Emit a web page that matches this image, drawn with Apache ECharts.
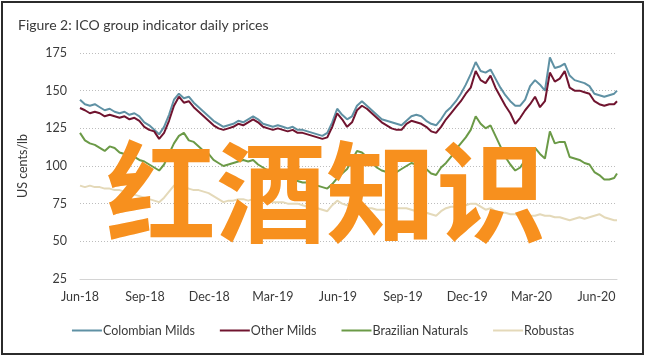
<!DOCTYPE html>
<html>
<head>
<meta charset="utf-8">
<script src="https://cdn.jsdelivr.net/npm/echarts@6/dist/echarts.min.js"></script>
<style>html,body{margin:0;padding:0;background:#fff}#c{width:646px;height:360px}</style>
</head>
<body>
<div id="c"></div>
<script>
const dates = [
'2018-06-01','2018-06-08','2018-06-15','2018-06-22','2018-06-29','2018-07-06','2018-07-13','2018-07-20','2018-07-27','2018-08-03',
'2018-08-10','2018-08-17','2018-08-24','2018-08-31','2018-09-07','2018-09-14','2018-09-21','2018-09-28','2018-10-05','2018-10-12',
'2018-10-19','2018-10-26','2018-11-02','2018-11-09','2018-11-16','2018-11-23','2018-11-30','2018-12-07','2018-12-14','2018-12-21',
'2018-12-28','2019-01-04','2019-01-11','2019-01-18','2019-01-25','2019-02-01','2019-02-08','2019-02-15','2019-02-22','2019-03-01',
'2019-03-08','2019-03-15','2019-03-22','2019-03-29','2019-04-05','2019-04-12','2019-04-19','2019-04-26','2019-05-03','2019-05-10',
'2019-05-17','2019-05-24','2019-05-31','2019-06-07','2019-06-14','2019-06-21','2019-06-28','2019-07-05','2019-07-12','2019-07-19',
'2019-07-26','2019-08-02','2019-08-09','2019-08-16','2019-08-23','2019-08-30','2019-09-06','2019-09-13','2019-09-20','2019-09-27',
'2019-10-04','2019-10-11','2019-10-18','2019-10-25','2019-11-01','2019-11-08','2019-11-15','2019-11-22','2019-11-29','2019-12-06',
'2019-12-13','2019-12-20','2019-12-27','2020-01-03','2020-01-10','2020-01-17','2020-01-24','2020-01-31','2020-02-07','2020-02-14',
'2020-02-21','2020-02-28','2020-03-06','2020-03-13','2020-03-20','2020-03-27','2020-04-03','2020-04-10','2020-04-17','2020-04-24',
'2020-05-01','2020-05-08','2020-05-15','2020-05-22','2020-05-29','2020-06-05','2020-06-12','2020-06-19','2020-06-26','2020-06-30'
];
const colombianMilds = [
144,141,140,141,139,137,138,136,135,136,
134,135,133,129,127,124,121,126,134,144,
148,145,146,142,139,136,133,130,128,126,
127,128,130,129,131,133,131,128,127,126,
127,126,125,126,124,124,123,122,121,120,
122,129,138,134,131,133,140,143,140,137,
134,131,130,129,128,127,130,133,134,133,
130,128,127,131,136,139,143,148,154,161,
169,163,162,164,158,152,147,143,140,140,
144,153,157,154,150,172,165,166,168,160,
157,156,155,153,148,147,146,147,148,150
];
const otherMilds = [
138.5,137,135,136,135,133,134,133,132,133,
131,132,130,126,124,123,118,122,130,140,
146,142,143,139,136,133,130,127,125,124,
125,126,128,127,129,131,129,126,125,124,
125,124,123,124,122,122,121,120,119,118,
119,126,135,131,126,129,137,140,138,135,
132,129,127,125,124,124,128,130,129,128,
126,123,122,126,131,135,139,143,148,152,
163,157,155,160,152,146,140,135,128,132,
137,141,146,139,143,162,156,158,163,152,
150,150,149,148,143,141,140,141,141,143
];
const brazilianNaturals = [
122,117,115,114,112,110,113,112,109,108,
107,106,104,103,101,99,97,101,108,115,
120,122,117,116,113,110,108,104,102,100,
101,102,103,104,103,104,101,99,97,96,
95,94,93,91,90,89,89,88,87,86,
85,88,92,95,98,104,110,109,106,103,
99,97,96,95,96,98,100,102,101,99,
98,95,94,99,102,106,111,115,119,124,
133,128,125,127,120,113,106,101,97,99,
104,110,112,108,105,123,115,116,116,106,
105,104,102,101,96,94,91,91,92,95
];
const robustas = [
87,86,87,86,86,85,85,84,84,83,
82,81,80,79,78,77,76,79,83,87,
87,85,85,84,84,83,82,80,78,76,
77,77,78,78,77,78,78,77,77,76,
76,76,75,75,75,74,73,73,72,71,
70,74,77,75,74,74,73,73,72,72,
71,71,71,72,72,72,72,71,70,69,
69,68,67,70,72,73,73,74,74,75,
75,73,71,72,70,69,69,68,68,67,
68,67,67,68,67,67,66,66,65,64,
65,66,65,66,67,68,66,65,64,64
];
const seriesNames = ['Colombian Milds','Other Milds','Brazilian Naturals','Robustas'];
const tickDates = ['2018-06-01','2018-09-01','2018-12-01','2019-03-01','2019-06-01','2019-09-01','2019-12-01','2020-03-01','2020-06-01'];
const tickLabels = ['Jun-18','Sep-18','Dec-18','Mar-19','Jun-19','Sep-19','Dec-19','Mar-20','Jun-20'];
const yTicks = [25,50,75,100,125,150,175];

const toTime = s => { const p = s.split('-').map(Number); return Date.UTC(p[0], p[1]-1, p[2]); };
const tickTimes = tickDates.map(toTime);
const pair = vals => dates.map((d,i) => [toTime(d), vals[i]]);
const colors = ['#5f91a4','#70142f','#6b9a47','#e4d9b9'];
const FONT = 'Lato';
const chart = echarts.init(document.getElementById('c'), null, {renderer:'canvas'});
chart.setOption({
  animation:false,
  backgroundColor:'#fff',
  title:{text:'Figure 2: ICO group indicator daily prices', left:13, top:13,
    textStyle:{fontFamily:FONT, fontSize:14, fontWeight:'normal', color:'#3a3a3a'}},
  grid:{left:80, right:29, top:53, bottom:81},
  legend:{left:'center', top:319, itemWidth:30, itemHeight:2, itemGap:25, icon:'rect',
    data:seriesNames, textStyle:{fontFamily:FONT, fontSize:12.5, color:'#3a3a3a', padding:[0,0,0,-4]}},
  xAxis:{type:'value', min:toTime('2018-06-01'), max:toTime('2020-06-30'), scale:true,
    axisLine:{show:true, lineStyle:{color:'#d4d4d4', width:1}},
    axisTick:{show:false}, splitLine:{show:false},
    axisLabel:{customValues:tickTimes, margin:11, fontFamily:FONT, fontSize:12.5, color:'#3a3a3a',
      formatter: v => { const i = tickTimes.indexOf(v); return i >= 0 ? tickLabels[i] : ''; }}},
  yAxis:{type:'value', min:yTicks[0], max:yTicks[yTicks.length-1], interval:25,
    name:'US cents/lb', nameLocation:'middle', nameGap:51, nameRotate:90,
    nameTextStyle:{fontFamily:FONT, fontSize:12.5, color:'#3a3a3a'},
    axisLine:{show:false}, axisTick:{show:false},
    axisLabel:{margin:13, fontFamily:FONT, fontSize:12.5, color:'#3a3a3a'},
    splitLine:{show:true, lineStyle:{type:[1,2], color:'#bdbdbd', width:1}}},
  series:[
    {name:seriesNames[0], type:'line', data:pair(colombianMilds), showSymbol:false, color:colors[0], lineStyle:{width:2}},
    {name:seriesNames[1], type:'line', data:pair(otherMilds), showSymbol:false, color:colors[1], lineStyle:{width:2}},
    {name:seriesNames[2], type:'line', data:pair(brazilianNaturals), showSymbol:false, color:colors[2], lineStyle:{width:2}},
    {name:seriesNames[3], type:'line', data:pair(robustas), showSymbol:false, color:colors[3], lineStyle:{width:2}}
  ],
  graphic:[
    {type:'rect', shape:{x:2, y:2, width:641, height:352}, style:{fill:'none', stroke:'#2b2b2b', lineWidth:2}, z:100, silent:true},
    {type:'text', x:326, y:192, z:100, silent:true,
      style:{text:'红酒知识', fontFamily:'Noto Sans CJK SC', fontWeight:'bold', fontSize:110,
        fill:'#f7901e', align:'center', verticalAlign:'middle'}}
  ]
});
</script>
</body>
</html>
